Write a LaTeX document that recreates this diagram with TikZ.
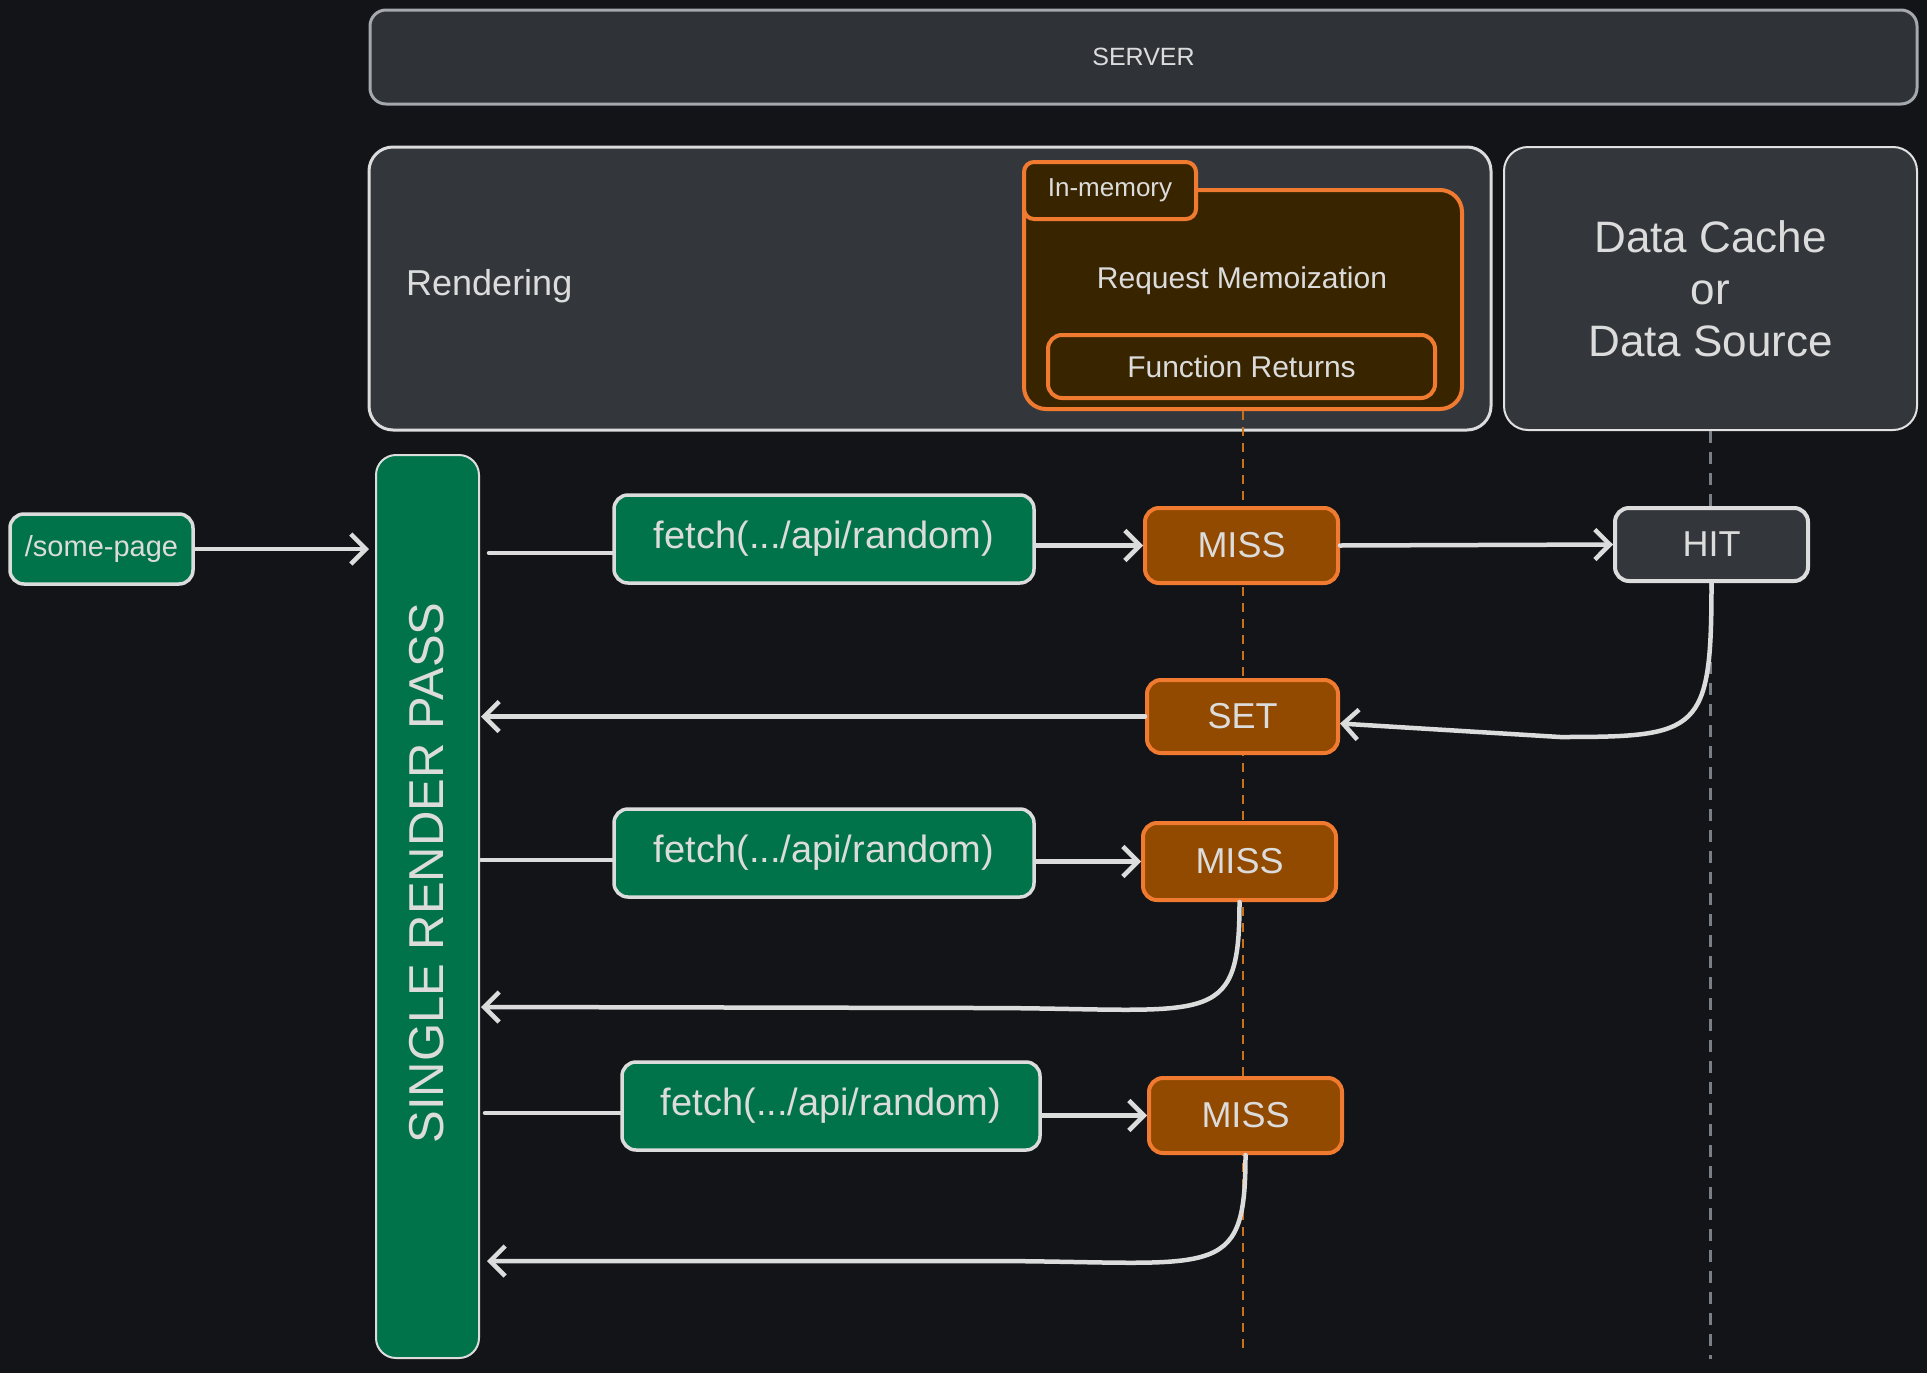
\documentclass[tikz,border=0pt]{standalone}
\usepackage{fontspec}
\setmainfont{Liberation Sans}
\usetikzlibrary{arrows.meta}
\definecolor{bg}{HTML}{121418}
\definecolor{boxgray}{HTML}{33373C}
\definecolor{servgray}{HTML}{2F3338}
\definecolor{servline}{HTML}{A5A9AE}
\definecolor{ink}{HTML}{DCDCDC}
\definecolor{grn}{HTML}{00734A}
\definecolor{orfill}{HTML}{914A00}
\definecolor{orline}{HTML}{F07A30}
\definecolor{memfill}{HTML}{382500}
\definecolor{dashor}{HTML}{C8701A}
\definecolor{dashgr}{HTML}{7A7F86}
\begin{document}
\begin{tikzpicture}[x=1pt,y=-1pt,
  base/.style={rectangle, inner sep=0pt, align=center, text=ink},
  srvbox/.style={base, draw=servline, fill=servgray, line width=3pt, rounded corners=16pt, font=\fontsize{25}{30}\selectfont},
  bigbox/.style={base, draw=ink, fill=boxgray, line width=3pt, rounded corners=24pt},
  databox/.style={base, draw=ink!85, fill=boxgray, line width=2pt, rounded corners=24pt, font=\fontsize{44}{52}\selectfont},
  membox/.style={base, draw=orline, fill=memfill, line width=4pt, rounded corners=22pt},
  tabbox/.style={base, draw=orline, fill=memfill, line width=4pt, rounded corners=10pt, font=\fontsize{26}{30}\selectfont},
  fnbox/.style={base, draw=orline, fill=memfill, line width=4pt, rounded corners=14pt, font=\fontsize{30}{36}\selectfont},
  grnbox/.style={base, draw=ink, fill=grn, line width=3.5pt, rounded corners=14pt},
  orbox/.style={base, draw=orline, fill=orfill, line width=4pt, rounded corners=14pt, font=\fontsize{36}{40}\selectfont},
  hitbox/.style={base, draw=ink, fill=boxgray, line width=4pt, rounded corners=14pt, font=\fontsize{36}{40}\selectfont},
  fetchtxt/.style={font=\fontsize{38}{44}\selectfont},
  ln/.style={draw=ink, line width=4.5pt, line cap=round},
  arr/.style={ln, -{Straight Barb[length=15pt,width=30pt]}},
]
\fill[bg] (0,0) rectangle (1927,1373);
\useasboundingbox (0,0) rectangle (1927,1373);

% containers
\node[srvbox, minimum width=1547pt, minimum height=94pt] (server) at (1143.5,57) {SERVER};
\node[bigbox, minimum width=1122pt, minimum height=283pt] (render) at (930,288.5) {};
\node[base, anchor=west, font=\fontsize{36}{40}\selectfont] (rtext) at (406,286) {Rendering};
\node[databox, minimum width=413pt, minimum height=283pt] (data) at (1710.5,288.5) {Data Cache\\or\\Data Source};
\node[membox, minimum width=438pt, minimum height=219pt] (memo) at (1243,299.5) {};
\node[tabbox, minimum width=172pt, minimum height=57pt] (tab) at (1110,190.5) {In-memory};
\node[base, font=\fontsize{30}{36}\selectfont] (memtxt) at (1242,281) {Request Memoization};
\node[fnbox, minimum width=387pt, minimum height=63pt] (fret) at (1241.5,366.5) {Function Returns};

% dashed lifelines
\draw[dashor, line width=1.5pt, dash pattern=on 9pt off 7pt] (memo.south) -- ++(0,937);
\draw[dashgr, line width=3pt, dash pattern=on 12pt off 9pt] (data.south) -- ++(0,928);

% nodes
\node[grnbox, minimum width=183pt, minimum height=70pt, font=\fontsize{29}{34}\selectfont] (page) at (101.5,549) {/some-page};
\node[base, draw=ink, fill=grn, line width=2pt, rounded corners=20pt, minimum width=103pt, minimum height=903pt] (bar) at (427.5,906.5) {};
\node[base, rotate=90, font=\fontsize{49}{56}\selectfont] (bartxt) at (427,873) {SINGLE RENDER PASS};

\node[grnbox, fetchtxt, minimum width=420pt, minimum height=88pt] (f1) at (824,539) {fetch(.../api/random)};
\node[orbox, minimum width=193pt, minimum height=75pt] (m1) at (1241.5,545.5) {MISS};
\node[hitbox, minimum width=193pt, minimum height=73pt] (hit) at (1711.5,544.5) {HIT};
\node[orbox, minimum width=191pt, minimum height=73pt] (set) at (1242.5,716.5) {SET};
\node[grnbox, fetchtxt, minimum width=420pt, minimum height=88pt] (f2) at (824,853) {fetch(.../api/random)};
\node[orbox, minimum width=193pt, minimum height=77pt] (m2) at (1239.5,861.5) {MISS};
\node[grnbox, fetchtxt, minimum width=418pt, minimum height=88pt] (f3) at (831,1106) {fetch(.../api/random)};
\node[orbox, minimum width=193pt, minimum height=75pt] (m3) at (1245.5,1115.5) {MISS};

% connector anchor points
\coordinate (inp) at (369,549);
\coordinate (o1) at (489,553);
\coordinate (in1) at (481,718);
\coordinate (o2) at (481,860);
\coordinate (in2) at (481,1007);
\coordinate (o3) at (485,1113);
\coordinate (in3) at (487,1261);
\coordinate (c1) at (1560,737);
\coordinate (c2) at (980,1008);
\coordinate (c3) at (985,1261);

% connectors
\draw[arr] (page.east) -- (inp);
\draw[ln] (o1) -- (o1 -| f1.west);
\draw[arr] (f1.east |- m1.west) -- (m1.west);
\draw[arr] (m1.east) -- (hit.west);
\draw[arr] (hit.south) .. controls +(0,150) and +(140,0) .. (c1) -- ([yshift=-7pt]set.east);
\draw[arr] (set.west) -- (set.west -| in1);
\draw[ln] (o2) -- (o2 -| f2.west);
\draw[arr] (f2.east |- m2.west) -- (m2.west);
\draw[arr] (m2.south) .. controls +(0,130) and +(230,0) .. (c2) -- (in2);
\draw[ln] (o3) -- (o3 -| f3.west);
\draw[arr] (f3.east |- m3.west) -- (m3.west);
\draw[arr] (m3.south) .. controls +(0,130) and +(230,0) .. (c3) -- (in3);
\end{tikzpicture}
\end{document}
